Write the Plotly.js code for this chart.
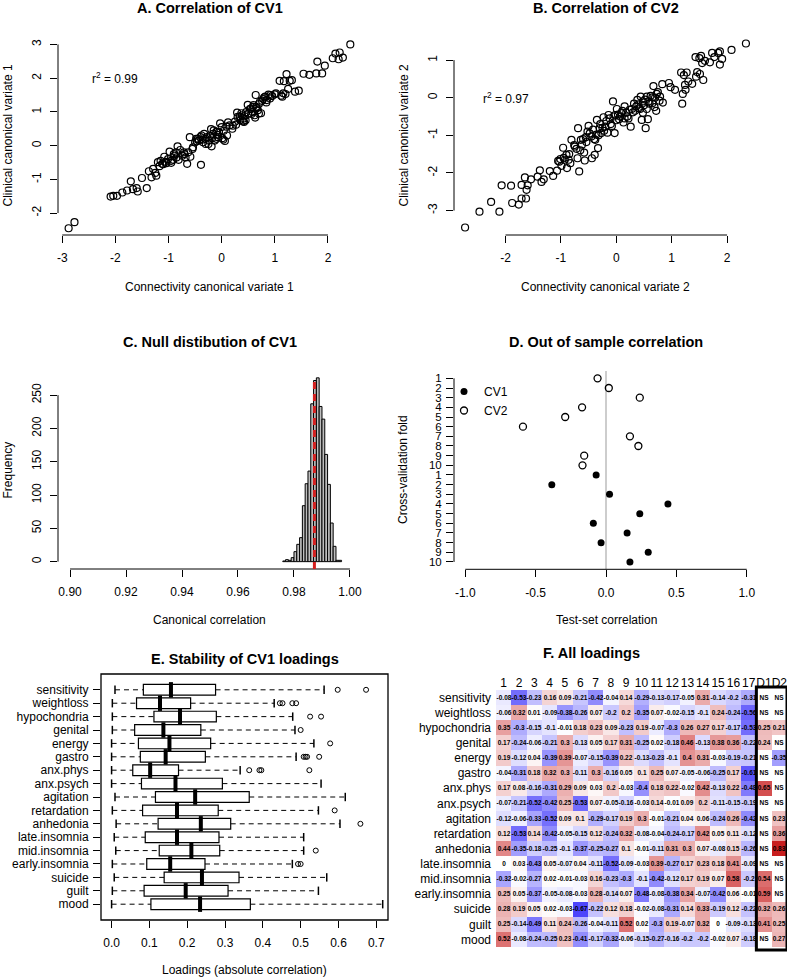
<!DOCTYPE html>
<html><head><meta charset="utf-8">
<script src="https://cdn.plot.ly/plotly-3.0.1.min.js"></script>
<style>html,body{margin:0;padding:0;background:#fff}#plot{width:790px;height:980px}</style>
</head><body><div id="plot"></div>
<script>
// ---------- DATA ----------
// A. CV1 scatter
const cv1Conn = [-2.88,-2.77,-2.09,-2.04,-1.97,-1.87,-1.78,-1.71,-1.67,-1.60,-1.58,-1.50,-1.41,-1.37,-1.32,-1.29,-1.25,-1.23,-1.20,-1.17,-1.12,-1.08,-1.04,-1.01,-0.98,-0.95,-0.91,-0.89,-0.86,-0.83,-0.81,-0.78,-0.74,-0.71,-0.68,-0.65,-0.63,-0.60,-0.59,-0.54,-0.50,-0.48,-0.43,-0.39,-0.38,-0.35,-0.33,-0.30,-0.28,-0.24,-0.20,-0.19,-0.16,-0.13,-0.10,-0.07,-0.03,0.01,0.04,0.06,0.09,0.12,0.21,0.25,0.29,0.34,0.37,0.40,0.43,0.46,0.49,0.53,0.56,0.59,0.63,0.64,0.66,0.70,0.74,0.76,0.80,0.84,0.88,0.91,0.95,1.02,1.09,1.14,1.17,1.20,1.22,1.25,1.28,1.32,1.38,1.45,1.54,1.65,1.80,1.78,1.89,1.94,2.09,2.14,2.20,2.22,2.28,2.42,
 -0.45,-0.40,-0.30,-0.22,-0.15,-0.05,0.00,0.15,0.30,0.40,0.45,0.55,0.60,0.68,0.72,0.78,0.82,0.62,0.50,0.35,0.20,0.10,-0.10,-0.25,-0.55,-0.70,-0.85,-0.95,-1.05,-1.10,-1.15,-0.90,0.65,0.70,0.85,0.92,1.00,1.12,1.16,0.58,0.42,0.38,0.27,-0.47,-0.36,-0.18,0.03,-0.08];
const cv1Clin = [-2.45,-2.27,-1.51,-1.49,-1.49,-1.39,-1.33,-1.06,-1.29,-1.26,-1.36,-0.96,-1.26,-0.76,-0.94,-0.69,-0.81,-0.89,-0.49,-0.61,-0.54,-0.33,-0.52,-0.40,-0.18,-0.51,-0.42,-0.30,-0.20,-0.02,-0.42,-0.13,-0.30,-0.20,-0.35,-0.54,-0.20,0.25,-0.33,-0.05,0.10,0.20,0.15,-0.57,0.30,0.10,0.35,0.05,0.25,0.15,0.49,-0.02,0.35,0.15,0.41,0.25,0.66,0.22,0.44,0.14,0.56,0.69,0.59,0.71,0.98,0.86,0.96,0.72,0.87,0.99,1.21,1.08,0.94,1.15,0.83,1.50,1.11,1.23,0.96,1.33,1.43,1.28,1.51,1.40,1.47,1.55,1.92,1.45,1.91,1.53,2.12,1.68,1.92,1.94,1.60,1.63,2.13,2.10,2.49,2.14,2.14,2.37,2.59,2.73,2.56,2.76,2.61,3.00,
 0.20,0.25,0.20,0.28,0.45,0.40,0.55,0.60,0.85,0.80,0.75,1.10,1.20,1.05,1.30,1.38,1.45,0.90,0.95,0.75,0.50,0.30,0.20,0.05,-0.10,-0.25,-0.35,-0.45,-0.48,-0.55,-0.45,-0.25,1.15,0.95,1.35,1.50,1.52,1.48,1.55,1.00,0.70,0.90,0.62,0.13,0.18,0.22,0.18,0.32];

// B. CV2 scatter
const cv2Conn = [-2.73,-2.47,-2.26,-2.11,-2.07,-1.90,-1.88,-1.76,-1.71,-1.71,-1.65,-1.63,-1.62,-1.60,-1.54,-1.42,-1.38,-1.35,-1.31,-1.20,-1.14,-1.07,-1.05,-1.01,-0.99,-0.96,-0.93,-0.90,-0.89,-0.86,-0.83,-0.81,-0.76,-0.72,-0.70,-0.69,-0.67,-0.64,-0.60,-0.58,-0.57,-0.54,-0.52,-0.50,-0.45,-0.44,-0.39,-0.38,-0.35,-0.33,-0.30,-0.27,-0.23,-0.20,-0.16,-0.14,-0.10,-0.06,-0.03,-0.02,0.01,0.05,0.09,0.13,0.15,0.20,0.24,0.26,0.30,0.32,0.36,0.38,0.41,0.44,0.46,0.48,0.53,0.55,0.57,0.60,0.65,0.67,0.69,0.72,0.75,0.79,0.83,0.84,0.95,0.98,1.06,1.17,1.19,1.20,1.22,1.24,1.25,1.27,1.30,1.37,1.43,1.44,1.46,1.50,1.51,1.53,1.55,1.57,1.60,1.69,1.73,1.77,1.84,1.87,1.87,1.91,2.08,2.34,
 -0.48,-0.42,-0.36,-0.29,-0.25,-0.18,-0.12,-0.08,0.00,0.03,0.07,0.11,0.18,0.22,0.28,0.34,0.40,0.43,0.50,0.52,0.58,0.62,0.70,0.73,-0.62,-0.55,-0.75,-0.85,-0.95,-1.03,-0.65,-0.40,-0.32,-0.22,0.15,0.48,0.55,0.65,0.78,-0.05];
const cv2Clin = [-3.45,-3.03,-2.77,-3.03,-2.33,-2.34,-2.80,-2.84,-2.32,-2.68,-2.12,-2.68,-2.45,-2.33,-2.17,-2.10,-1.93,-2.24,-2.17,-1.95,-2.08,-1.94,-1.68,-1.63,-1.81,-1.33,-1.65,-1.52,-1.87,-1.65,-1.74,-1.12,-1.26,-1.36,-1.61,-0.81,-1.96,-1.12,-1.10,-1.46,-1.67,-1.18,-0.90,-0.75,-1.03,-1.61,-1.52,-1.12,-0.59,-1.34,-0.81,-0.94,-0.52,-0.77,-0.93,-0.46,-0.70,-0.10,-0.94,-0.46,-0.30,-0.57,-0.41,-0.66,-0.23,-0.50,-0.32,-0.77,-0.39,-0.16,-0.23,-0.06,-0.28,0.03,-0.59,-0.10,-0.81,0.03,-0.57,-0.16,0.01,0.31,-0.25,-0.35,0.15,0.03,0.36,-0.13,0.39,0.28,0.21,0.67,-0.16,0.10,0.60,0.34,0.21,0.67,0.43,0.37,1.08,0.56,0.68,1.05,0.63,1.11,0.92,0.47,0.98,0.94,1.19,1.08,1.19,1.23,0.88,1.03,1.27,1.44,
 -0.95,-0.85,-0.98,-0.70,-0.80,-0.62,-0.55,-0.75,-0.60,-0.45,-0.50,-0.35,-0.40,-0.55,-0.30,-0.35,-0.18,-0.30,-0.20,-0.05,-0.10,0.05,0.00,0.10,-1.25,-1.05,-1.30,-1.50,-1.60,-1.70,-1.40,-1.10,-1.00,-0.88,-0.55,-0.40,-0.30,-0.15,-0.08,-0.50];

// C. Null distribution histogram (bin lower edges, width 0.001)
const nullBinStart = [0.976,0.977,0.978,0.979,0.980,0.981,0.982,0.983,0.984,0.985,0.986,0.987,0.988,0.989,0.990,0.991,0.992,0.993,0.994,0.995,0.996];
const nullCounts   = [1,3,2,6,15,26,36,84,117,136,237,272,276,233,214,161,116,58,23,2,2];
const observedCorr = 0.9873;

// D. Out of sample correlation
const foldLabels = ['1','2','3','4','5','6','7','8','9','10','1','2','3','4','5','6','7','8','9','10'];
const cv2TestCorr = [-0.06,0.02,0.24,-0.17,-0.29,-0.59,0.17,0.23,-0.155,-0.167];
const cv1TestCorr = [-0.07,-0.385,0.025,0.44,0.24,-0.09,0.15,-0.035,0.30,0.17];

// E. Stability of CV1 loadings
const symptoms = ['sensitivity','weightloss','hypochondria','genital','energy','gastro','anx.phys','anx.psych','agitation','retardation','anhedonia','late.insomnia','mid.insomnia','early.insomnia','suicide','guilt','mood'];
const whiskLo = [0.009,0.002,0.002,0.002,0,0,0,0,0.009,0.002,0.012,0.007,0.011,0.002,0.007,0.002,0];
const boxQ1   = [0.084,0.066,0.112,0.061,0.071,0.076,0.056,0.079,0.116,0.082,0.123,0.089,0.126,0.093,0.139,0.086,0.104];
const boxMed  = [0.157,0.128,0.181,0.137,0.153,0.143,0.102,0.169,0.221,0.173,0.236,0.173,0.211,0.155,0.239,0.196,0.234];
const boxQ3   = [0.275,0.209,0.277,0.236,0.262,0.248,0.177,0.293,0.364,0.282,0.315,0.284,0.286,0.247,0.337,0.308,0.367];
const whiskHi = [0.562,0.430,0.479,0.485,0.535,0.488,0.340,0.554,0.618,0.547,0.604,0.508,0.508,0.478,0.569,0.547,0.717];
const outliers = [[0.598,0.673],[0.445,0.452,0.478,0.488],[0.525,0.554],[0.50],[0.578],[0.508,0.513,0.517,0.549],[0.364,0.391,0.396,0.523],[],[],[0.59],[0.658],[],[0.54],[0.493,0.50],[],[],[]];

// F. All loadings (null = NS)
const loadCols = ['1','2','3','4','5','6','7','8','9','10','11','12','13','14','15','16','17','D1','D2'];
const loadings = [
 [-0.08,-0.53,-0.23,0.16,0.09,-0.21,-0.42,-0.04,0.14,-0.29,-0.13,-0.17,-0.05,0.31,-0.14,-0.2,-0.31,null,null],
 [-0.06,0.32,0.01,-0.09,-0.38,-0.26,0.07,-0.2,0.2,-0.35,0.07,-0.02,-0.15,-0.1,0.24,-0.24,-0.56,null,null],
 [0.35,-0.3,-0.15,-0.1,-0.01,0.18,0.23,0.09,-0.23,0.19,-0.07,-0.3,0.26,0.27,0.17,-0.17,-0.53,0.25,0.21],
 [0.17,-0.24,-0.06,-0.21,0.3,-0.13,0.05,0.17,0.31,-0.25,0.02,-0.18,0.46,-0.13,0.38,0.36,-0.22,0.24,null],
 [0.19,-0.12,0.04,-0.39,0.39,-0.07,-0.15,-0.39,0.22,-0.13,-0.23,-0.1,0.4,0.31,-0.03,-0.19,-0.21,null,-0.35],
 [-0.04,-0.31,0.18,0.32,0.3,-0.11,0.3,-0.16,0.05,0.1,0.25,0.07,-0.05,-0.06,-0.25,0.17,-0.61,null,null],
 [0.17,0.08,-0.16,-0.31,0.29,0.09,0.03,0.2,-0.03,-0.4,0.18,0.22,-0.02,0.42,-0.13,0.22,-0.48,0.65,null],
 [-0.07,-0.21,-0.52,-0.42,0.25,-0.53,0.07,-0.05,-0.16,-0.03,0.14,-0.01,0.09,0.2,-0.11,-0.15,-0.19,null,null],
 [-0.12,-0.06,-0.33,-0.52,0.09,0.1,-0.29,-0.17,0.19,0.3,-0.01,-0.21,0.04,0.06,-0.24,0.26,-0.42,null,0.23],
 [0.12,-0.53,0.14,-0.42,-0.05,-0.15,0.12,-0.24,0.32,-0.08,-0.04,-0.24,-0.17,0.42,0.05,0.11,-0.12,null,0.36],
 [0.44,-0.35,-0.18,-0.25,-0.1,-0.37,-0.25,-0.27,0.1,-0.01,-0.11,0.31,0.3,0.07,-0.08,0.15,-0.26,null,0.83],
 [0,0.03,-0.43,0.05,-0.07,0.04,-0.11,-0.52,-0.09,-0.03,0.39,-0.27,0.17,0.23,0.18,0.41,-0.09,null,null],
 [-0.32,-0.02,-0.27,0.02,-0.01,-0.03,0.16,-0.23,-0.3,-0.1,-0.42,-0.12,0.17,0.19,0.07,0.58,-0.2,0.54,null],
 [0.25,0.05,-0.37,-0.05,-0.08,-0.03,0.28,-0.14,0.07,-0.48,-0.08,-0.38,0.34,-0.07,-0.42,0.06,-0.01,0.59,null],
 [0.28,0.19,0.05,0.02,-0.03,-0.67,-0.22,0.12,0.18,-0.02,-0.08,-0.31,0.14,0.33,-0.19,0.12,-0.22,0.32,0.26],
 [0.25,-0.14,-0.49,0.11,0.24,-0.26,-0.04,-0.11,0.52,0.02,-0.3,0.19,-0.07,0.32,0,-0.09,-0.13,0.41,0.25],
 [0.52,-0.08,-0.24,-0.25,0.23,-0.41,-0.17,-0.32,-0.06,-0.15,-0.27,-0.16,-0.2,-0.2,-0.02,0.07,-0.18,null,0.27]
];

// ---------- LAYOUT HELPERS ----------
const W = 790, H = 980;
const FONT = 'Liberation Sans, Arial, Helvetica, sans-serif';
const dx = (a, b) => [a / W, b / W];
const dy = (top, bottom) => [1 - bottom / H, 1 - top / H];
const tickFont = {family: FONT, size: 12, color: '#000'};
function axis(extra) {
  return Object.assign({showgrid:false, zeroline:false, showline:false, ticks:'outside', ticklen:7,
    tickwidth:1, tickcolor:'#000', tickfont:tickFont, fixedrange:true, tickmode:'array'}, extra);
}
const lbl = v => String(v);
function ann(text, x, y, o) {
  return Object.assign({text:text, x:x / W, y:1 - y / H, xref:'paper', yref:'paper', showarrow:false,
    xanchor:'center', yanchor:'middle', font:{family:FONT, size:12, color:'#000'}}, o || {});
}
const titleFont = {family: FONT, size: 14.5, color: '#000', weight: 'bold'};

// ---------- TRACES ----------
const traces = [];
const openCircle = {symbol:'circle-open', size:7, color:'#000', line:{width:1.2, color:'#000'}};

traces.push({type:'scatter', mode:'markers', x:cv1Conn, y:cv1Clin, xaxis:'x', yaxis:'y', marker:openCircle, showlegend:false});
traces.push({type:'scatter', mode:'markers', x:cv2Conn, y:cv2Clin, xaxis:'x2', yaxis:'y2', marker:openCircle, showlegend:false});

// C histogram
traces.push({type:'bar', x:nullBinStart, y:nullCounts, width:0.001, offset:0, xaxis:'x3', yaxis:'y3',
  marker:{color:'#bebebe', line:{color:'#000', width:1}}, showlegend:false});

// D
const posCV2 = cv2TestCorr.map((_, i) => i + 1);
const posCV1 = cv1TestCorr.map((_, i) => i + 1 + cv2TestCorr.length);
traces.push({type:'scatter', mode:'markers', name:'CV1', x:cv1TestCorr, y:posCV1, xaxis:'x4', yaxis:'y4',
  marker:{symbol:'circle', size:7, color:'#000'}, showlegend:true});
traces.push({type:'scatter', mode:'markers', name:'CV2', x:cv2TestCorr, y:posCV2, xaxis:'x4', yaxis:'y4',
  marker:{symbol:'circle-open', size:7, color:'#000', line:{width:1.3, color:'#000'}}, showlegend:true});

// E boxplots
const rowPos = symptoms.map((_, i) => i + 1);
const wx = [], wy = [];
symptoms.forEach((_, i) => {
  wx.push(whiskLo[i], boxQ1[i], null, boxQ3[i], whiskHi[i], null);
  wy.push(i + 1, i + 1, null, i + 1, i + 1, null);
});
traces.push({type:'scatter', mode:'lines', x:wx, y:wy, xaxis:'x5', yaxis:'y5',
  line:{color:'#000', width:1, dash:'5px,4px'}, showlegend:false, connectgaps:false});
traces.push({type:'scatter', mode:'markers', x:whiskLo.concat(whiskHi), y:rowPos.concat(rowPos), xaxis:'x5', yaxis:'y5',
  marker:{symbol:'line-ns-open', size:6, color:'#000', line:{width:1.5, color:'#000'}}, showlegend:false});
traces.push({type:'box', orientation:'h', y:rowPos, q1:boxQ1, median:boxMed, q3:boxQ3, lowerfence:boxQ1, upperfence:boxQ3,
  xaxis:'x5', yaxis:'y5', width:0.8, whiskerwidth:0, fillcolor:'#fff', line:{color:'#000', width:1.2},
  boxpoints:false, showlegend:false, hoverinfo:'skip'});
traces.push({type:'scatter', mode:'markers', x:boxMed, y:rowPos, xaxis:'x5', yaxis:'y5',
  marker:{symbol:'line-ns-open', size:11, color:'#000', line:{width:4, color:'#000'}}, showlegend:false});
const ox = [], oy = [];
outliers.forEach((arr, i) => arr.forEach(v => { ox.push(v); oy.push(i + 1); }));
traces.push({type:'scatter', mode:'markers', x:ox, y:oy, xaxis:'x5', yaxis:'y5',
  marker:{symbol:'circle-open', size:5, color:'#000', line:{width:1, color:'#000'}}, showlegend:false});

// F heatmap
const zF = loadings.map(r => r.map(v => v === null ? 0 : v));
const tF = loadings.map(r => r.map(v => v === null ? 'NS' : String(v)));
traces.push({type:'heatmap', x:loadCols, y:symptoms, z:zF, text:tF, texttemplate:'%{text}',
  textfont:{family:FONT, size:6.5, color:'#000', weight:'bold'}, xaxis:'x6', yaxis:'y6',
  zmin:-0.83, zmax:0.83, showscale:false, hoverinfo:'skip',
  colorscale:[[0,'rgb(35,25,250)'],[0.5,'rgb(255,255,255)'],[1,'rgb(200,30,30)']]});

// ---------- LAYOUT ----------
const layout = {
  width: W, height: H, margin:{l:0, r:0, t:0, b:0}, paper_bgcolor:'#fff', plot_bgcolor:'rgba(0,0,0,0)',
  font:{family:FONT, color:'#000'},
  showlegend:true,
  legend:{x:444 / W, y:1 - 377 / H, xanchor:'left', yanchor:'top', bgcolor:'rgba(0,0,0,0)',
    font:{family:FONT, size:12, color:'#000'}, tracegroupgap:0, itemwidth:30},
  xaxis: axis({domain:dx(58,362), range:[-3.08,2.64], tickvals:[-3,-2,-1,0,1,2], ticktext:[-3,-2,-1,0,1,2].map(lbl), anchor:'y', ticklabelstandoff:5}),
  yaxis: axis({domain:dy(37,235), range:[-2.65,3.22], tickvals:[-2,-1,0,1,2,3], ticktext:[-2,-1,0,1,2,3].map(lbl), tickangle:-90, anchor:'x', ticklabelstandoff:4}),
  xaxis2: axis({domain:dx(454,757), range:[-2.93,2.54], tickvals:[-2,-1,0,1,2], ticktext:[-2,-1,0,1,2].map(lbl), anchor:'y2', ticklabelstandoff:5}),
  yaxis2: axis({domain:dy(36,235), range:[-3.65,1.64], tickvals:[-3,-2,-1,0,1], ticktext:[-3,-2,-1,0,1].map(lbl), tickangle:-90, anchor:'x2', ticklabelstandoff:4}),
  xaxis3: axis({domain:dx(58,362), range:[0.8957,1.0043], tickvals:[0.9,0.92,0.94,0.96,0.98,1.0], ticktext:['0.90','0.92','0.94','0.96','0.98','1.00'], anchor:'y3', ticklabelstandoff:5}),
  yaxis3: axis({domain:dy(370.5,569), range:[-11.04,287], tickvals:[0,50,100,150,200,250], ticktext:['0','50','100','150','200','250'], tickangle:-90, anchor:'x3', ticklabelstandoff:4}),
  xaxis4: axis({domain:dx(454,758), range:[-1.08,1.08], tickvals:[-1,-0.5,0,0.5,1], ticktext:['-1.0','-0.5','0.0','0.5','1.0'], anchor:'y4', ticklabelstandoff:5}),
  yaxis4: axis({domain:dy(371,569.3), range:[20.76,0.24], tickvals:foldLabels.map((_, i) => i + 1), ticktext:foldLabels, anchor:'x4', ticklabelstandoff:2, tickfont:{family:FONT, size:11.5, color:'#000'}}),
  xaxis5: axis({domain:dx(101,388), range:[-0.028,0.731], tickvals:[0,0.1,0.2,0.3,0.4,0.5,0.6,0.7], ticktext:['0.0','0.1','0.2','0.3','0.4','0.5','0.6','0.7'], anchor:'y5', ticklabelstandoff:5}),
  yaxis5: axis({domain:dy(674,920), range:[18.18,-0.18], tickvals:rowPos, ticktext:symptoms, anchor:'x5', ticklabelstandoff:2}),
  xaxis6: {domain:dx(496,787), side:'top', anchor:'y6', showgrid:false, zeroline:false, showline:false, ticks:'', tickfont:{family:FONT, size:12, color:'#000'}, fixedrange:true, range:[-0.5,18.5], type:'category', tickangle:0, ticklabelstandoff:0},
  yaxis6: {domain:dy(690,947), anchor:'x6', showgrid:false, zeroline:false, showline:false, ticks:'', tickfont:{family:FONT, size:12, color:'#000'}, fixedrange:true, range:[16.5,-0.5], type:'category', ticklabelstandoff:4},
  shapes: [
    // R-style axis lines
    {type:'line', xref:'x', yref:'y domain', x0:-3, x1:2, y0:0, y1:0, line:{color:'#000', width:1}},
    {type:'line', xref:'x domain', yref:'y', x0:0, x1:0, y0:-2, y1:3, line:{color:'#000', width:1}},
    {type:'line', xref:'x2', yref:'y2 domain', x0:-2, x1:2, y0:0, y1:0, line:{color:'#000', width:1}},
    {type:'line', xref:'x2 domain', yref:'y2', x0:0, x1:0, y0:-3, y1:1, line:{color:'#000', width:1}},
    {type:'line', xref:'x3', yref:'y3 domain', x0:0.9, x1:1.0, y0:0, y1:0, line:{color:'#000', width:1}},
    {type:'line', xref:'x3 domain', yref:'y3', x0:0, x1:0, y0:0, y1:250, line:{color:'#000', width:1}},
    {type:'line', xref:'x3', yref:'y3', x0:observedCorr, x1:observedCorr, y0:-11.04, y1:276, line:{color:'#d42020', width:3, dash:'7px,5px'}},
    {type:'line', xref:'x4', yref:'y4 domain', x0:-1, x1:1, y0:0, y1:0, line:{color:'#000', width:1}},
    {type:'line', xref:'x4 domain', yref:'y4', x0:0, x1:0, y0:1, y1:20, line:{color:'#000', width:1}},
    {type:'line', xref:'x4', yref:'y4 domain', x0:0, x1:0, y0:0, y1:1, line:{color:'#bdbdbd', width:1.5}, layer:'below'},
    {type:'rect', xref:'x5 domain', yref:'y5 domain', x0:0, x1:1, y0:0, y1:1, line:{color:'#000', width:1.3}},
    {type:'rect', xref:'x6', yref:'y6 domain', x0:16.5, x1:18.5, y0:-0.012, y1:1.012, line:{color:'#000', width:3}}
  ],
  annotations: [
    ann('<b>A. Correlation of CV1</b>', 210, 8, {font:titleFont}),
    ann('<b>B. Correlation of CV2</b>', 605.5, 8, {font:titleFont}),
    ann('<b>C. Null distibution of CV1</b>', 210, 341.7, {font:titleFont}),
    ann('<b>D. Out of sample correlation</b>', 606, 341.7, {font:titleFont}),
    ann('<b>E. Stability of CV1 loadings</b>', 244.5, 659.3, {font:titleFont}),
    ann('<b>F. All loadings</b>', 591, 652.7, {font:titleFont}),
    ann('Connectivity canonical variate 1', 210, 286.7),
    ann('Clinical canonical variate 1', 7.5, 136, {textangle:-90}),
    ann('Connectivity canonical variate 2', 605.5, 286.7),
    ann('Clinical canonical variate 2', 403, 135.5, {textangle:-90}),
    ann('Canonical correlation', 210, 620),
    ann('Frequency', 7.5, 470, {textangle:-90}),
    ann('Test-set correlation', 606, 620),
    ann('Cross-validation fold', 403, 470, {textangle:-90}),
    ann('Loadings (absolute correlation)', 244.5, 970),
    {text:'r<sup>2</sup> = 0.99', x:-2, y:2, xref:'x', yref:'y', showarrow:false, xanchor:'center', yanchor:'middle', font:{family:FONT, size:12, color:'#000'}},
    {text:'r<sup>2</sup> = 0.97', x:-2, y:0, xref:'x2', yref:'y2', showarrow:false, xanchor:'center', yanchor:'middle', font:{family:FONT, size:12, color:'#000'}}
  ]
};

Plotly.newPlot('plot', traces, layout, {staticPlot:true, displayModeBar:false});
</script>
</body></html>
